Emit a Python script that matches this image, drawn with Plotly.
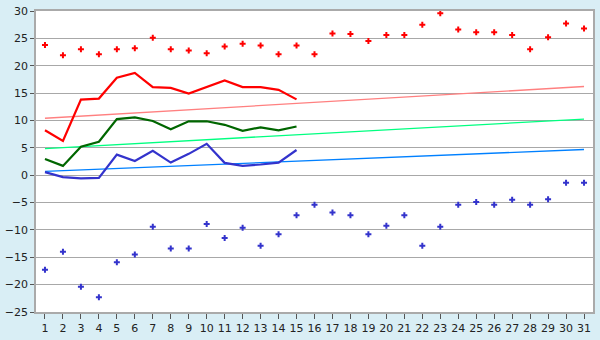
import plotly.graph_objects as go

days = list(range(1, 32))
max_points = [23.8, 21.9, 23.0, 22.1, 23.0, 23.2, 25.1, 23.0, 22.8, 22.3,
              23.5, 24.0, 23.7, 22.1, 23.7, 22.1, 25.9, 25.8, 24.5, 25.6,
              25.6, 27.5, 29.6, 26.6, 26.1, 26.1, 25.6, 23.0, 25.2, 27.7, 26.8]
min_points = [-17.3, -14.0, -20.4, -22.3, -15.9, -14.5, -9.4, -13.4, -13.4, -8.9,
              -11.5, -9.6, -12.9, -10.8, -7.3, -5.4, -6.8, -7.3, -10.8, -9.25,
              -7.3, -12.9, -9.4, -5.4, -4.9, -5.4, -4.5, -5.4, -4.4, -1.4, -1.4]
line_days = list(range(1, 16))
max_line = [8.2, 6.25, 13.8, 14.0, 17.8, 18.7, 16.1, 15.95, 14.9, 16.1,
            17.3, 16.1, 16.1, 15.6, 13.85]
mean_line = [2.95, 1.7, 5.2, 6.1, 10.26, 10.55, 9.9, 8.4, 9.85, 9.85,
             9.2, 8.1, 8.75, 8.2, 8.9]
min_line = [0.55, -0.36, -0.6, -0.5, 3.75, 2.6, 4.45, 2.3, 3.9, 5.74,
            2.25, 1.7, 1.95, 2.3, 4.6]
trend_days = [1, 31]
max_trend = [10.4, 16.2]
mean_trend = [4.86, 10.26]
min_trend = [0.68, 4.69]
y_ticks = list(range(-25, 31, 5))

fig = go.Figure()
fig.add_trace(go.Scatter(x=trend_days, y=max_trend, mode="lines",
                         line=dict(color="#ff8080", width=1.3)))
fig.add_trace(go.Scatter(x=trend_days, y=mean_trend, mode="lines",
                         line=dict(color="#00ff80", width=1.3)))
fig.add_trace(go.Scatter(x=trend_days, y=min_trend, mode="lines",
                         line=dict(color="#0080ff", width=1.3)))
fig.add_trace(go.Scatter(x=line_days, y=max_line, mode="lines",
                         line=dict(color="#ff0000", width=2.2)))
fig.add_trace(go.Scatter(x=line_days, y=mean_line, mode="lines",
                         line=dict(color="#006600", width=2.2)))
fig.add_trace(go.Scatter(x=line_days, y=min_line, mode="lines",
                         line=dict(color="#3333cc", width=2.2)))
fig.add_trace(go.Scatter(x=days, y=max_points, mode="markers",
                         marker=dict(symbol="cross", size=5, color="#ff0000")))
fig.add_trace(go.Scatter(x=days, y=min_points, mode="markers",
                         marker=dict(symbol="cross", size=5, color="#3333cc")))

fig.update_layout(
    width=600, height=340,
    margin=dict(l=27, r=5, t=5, b=19),
    paper_bgcolor="#d9eef5",
    plot_bgcolor="#ffffff",
    showlegend=False,
    font=dict(family="DejaVu Sans", size=11, color="#222222"),
)
fig.update_xaxes(range=[0.5, 31.5], tickmode="array", tickvals=days,
                 ticktext=[str(d) for d in days],
                 showgrid=False, zeroline=False,
                 showline=True, linecolor="#aaaaaa", linewidth=1.5, mirror=True,
                 ticks="outside", ticklen=5, tickcolor="#555555", tickwidth=1)
fig.update_yaxes(range=[-25, 30], tickmode="array", tickvals=y_ticks,
                 showgrid=True, gridcolor="#a8a8a8", gridwidth=1.2,
                 zeroline=False,
                 showline=True, linecolor="#aaaaaa", linewidth=1.5, mirror=True,
                 ticks="outside", ticklen=4, tickcolor="#555555", tickwidth=1)

fig.write_html("out.html")
